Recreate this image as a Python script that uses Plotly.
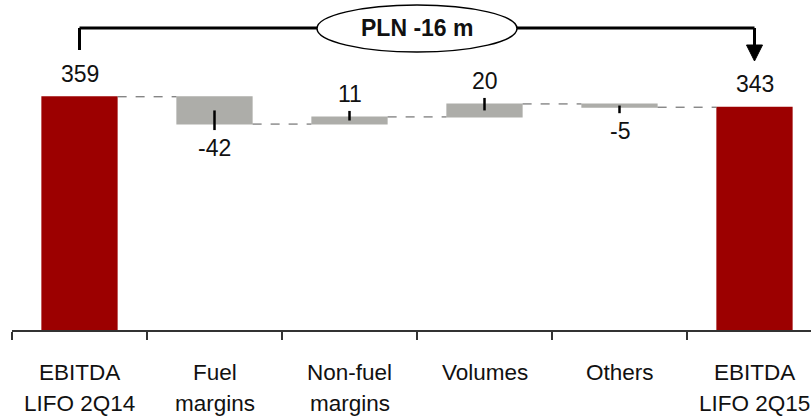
import plotly.graph_objects as go

# ---- data ----
categories = ["EBITDA<br>LIFO 2Q14", "Fuel<br>margins", "Non-fuel<br>margins",
              "Volumes", "Others", "EBITDA<br>LIFO 2Q15"]
values = [359, -42, 11, 20, -5, 343]
measures = ["absolute", "relative", "relative", "relative", "relative", "total"]

RED = "#9C0000"
GREY = "#ADADA9"
TXT = "#111111"
FONT = "Liberation Sans Narrow, Arial Narrow, Liberation Sans, Arial, sans-serif"

W, H = 811, 418
ML, MT, MB = 12, 0, 88
plot_h = H - MT - MB
YMAX = 508
px_per_unit = plot_h / YMAX
cat_px = 135.0
xr = [-0.5, -0.5 + (W - ML) / cat_px]

n = len(categories)
xs = list(range(n))

fig = go.Figure(go.Waterfall(
    x=xs, y=values, measure=measures,
    width=0.565,
    increasing=dict(marker=dict(color=GREY)),
    decreasing=dict(marker=dict(color=GREY)),
    totals=dict(marker=dict(color=RED)),
    connector=dict(mode="between", line=dict(color="#555555", width=1, dash="dash")),
    hoverinfo="skip",
))

# compute running levels
levels = []
run = 0
for v, m in zip(values, measures):
    if m == "absolute":
        start, end = 0, v
        run = v
    elif m == "total":
        start, end = 0, run
    else:
        start, end = run, run + v
        run += v
    levels.append((start, end))

shapes = []
annotations = []
ext = 6 / px_per_unit
for i, ((s, e), v, m) in enumerate(zip(levels, values, measures)):
    top = max(s, e)
    bot = min(s, e)
    if m == "relative":
        mid = (s + e) / 2
        tip = top + ext if v > 0 else bot - ext
        shapes.append(dict(type="line", xref="x", yref="y", x0=i, x1=i, y0=mid, y1=tip,
                           line=dict(color="black", width=2.5)))
    if v >= 0 or m == "total":
        yv, shift = top, 23
    else:
        yv, shift = bot, -24
    label = str(v) if m != "total" else str(e)
    annotations.append(dict(x=i, y=yv, xref="x", yref="y", text=label, showarrow=False,
                            yshift=shift, yanchor="middle",
                            font=dict(size=23, color=TXT, family=FONT)))

def py(p):
    return 1 - (p - MT) / plot_h

# category labels (each line placed separately for reference line spacing)
for i, c in enumerate(categories):
    for k, line in enumerate(c.split("<br>")):
        annotations.append(dict(x=i, y=py(372 + 32 * k), xref="x", yref="paper", text=line,
                                showarrow=False, yanchor="middle", align="center",
                                font=dict(size=22.5, color=TXT, family=FONT)))

# bracket on top
first_end = levels[0][1]
last_end = levels[-1][1]
diff = last_end - first_end
yb = py(28)
shapes.append(dict(type="line", xref="x", yref="paper", x0=0, x1=n - 1, y0=yb, y1=yb,
                   line=dict(color="black", width=3)))
shapes.append(dict(type="line", xref="x", yref="paper", x0=0, x1=0, y0=yb, y1=py(50),
                   line=dict(color="black", width=3)))
shapes.append(dict(type="line", xref="x", yref="paper", x0=n - 1, x1=n - 1, y0=yb, y1=py(46),
                   line=dict(color="black", width=3)))
hw = 8 / cat_px
shapes.append(dict(type="path", xref="x", yref="paper",
                   path=f"M {n-1-hw},{py(45)} L {n-1+hw},{py(45)} L {n-1},{py(61)} Z",
                   fillcolor="black", line=dict(color="black", width=1)))
xc = (n - 1) / 2
ew = 100 / cat_px
shapes.append(dict(type="circle", xref="x", yref="paper", x0=xc - ew, x1=xc + ew,
                   y0=py(52), y1=py(5), fillcolor="white",
                   line=dict(color="black", width=1.5), layer="above"))
annotations.append(dict(x=xc, y=yb, xref="x", yref="paper",
                        text=f"<b>PLN {diff:d} m</b>", showarrow=False, yanchor="middle",
                        font=dict(size=23, color=TXT, family=FONT)))

fig.update_layout(
    width=W, height=H,
    margin=dict(l=ML, r=0, t=MT, b=MB),
    paper_bgcolor="white", plot_bgcolor="white",
    showlegend=False,
    xaxis=dict(range=xr, tickvals=[k - 0.5 for k in range(n + 1)], showticklabels=False,
               ticks="outside", ticklen=8, tickwidth=1.5, tickcolor="#333333",
               showline=True, linecolor="#333333", linewidth=1.5, showgrid=False,
               zeroline=False, fixedrange=True),
    yaxis=dict(range=[0, YMAX], visible=False, showgrid=False, fixedrange=True),
    shapes=shapes, annotations=annotations,
)

fig.write_html("out.html")
